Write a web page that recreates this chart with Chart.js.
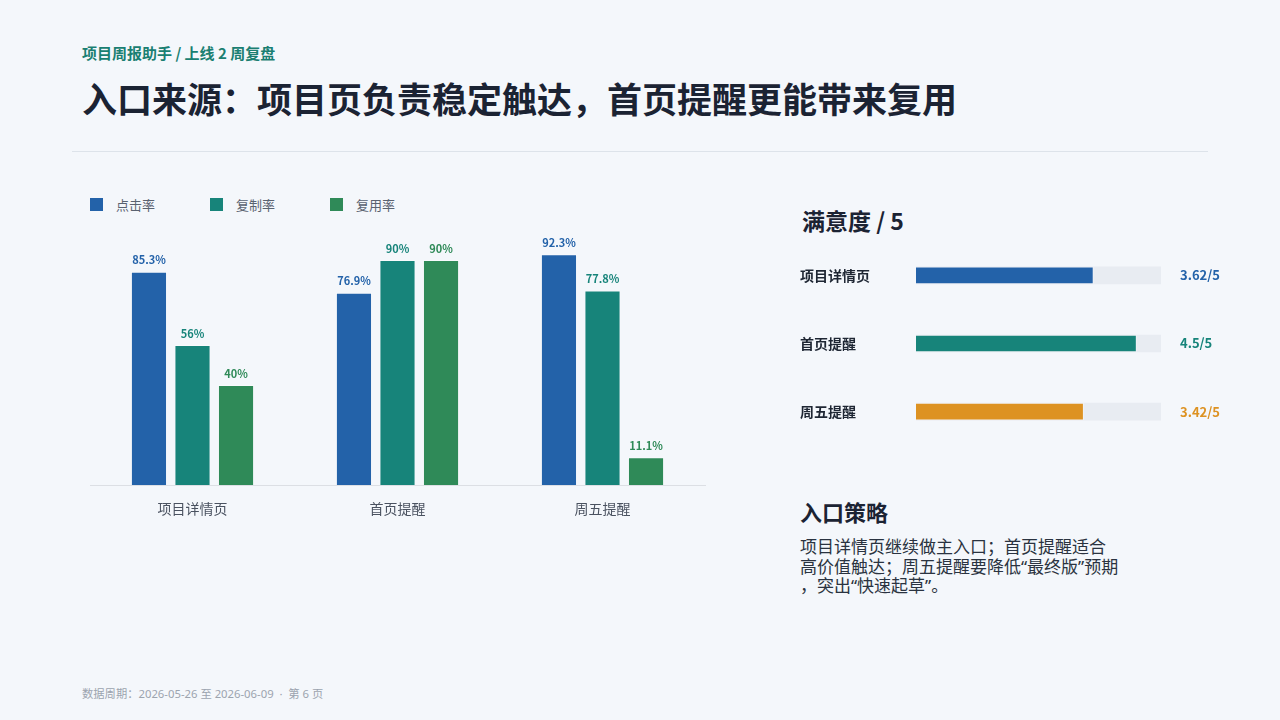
<!DOCTYPE html>
<html lang="zh-CN">
<head>
  <meta charset="UTF-8">
  <title>入口来源</title>
  <script src="https://cdn.jsdelivr.net/npm/chart.js"></script>
  <style>
    :root{
      --blue:#2362a9;
      --teal:#17847a;
      --green:#2f8a58;
      --orange:#dd9222;
      --ink:#1b2333;
    }
    html,body{margin:0;padding:0;}
    body{width:1280px;height:720px;position:relative;overflow:hidden;background:#f4f7fb;font-family:'Noto Sans CJK SC','Noto Sans',sans-serif;color:var(--ink);}
    .abs{position:absolute;}
    .kicker{left:82px;top:41px;font-size:15px;font-weight:700;color:#1a7f72;line-height:24px;}
    .title{left:82px;top:76px;font-size:35px;font-weight:700;line-height:44px;}
    .rule{left:72px;top:151px;width:1136px;height:1px;background:#dde3ea;}
    .legend{left:90px;top:196px;display:flex;font-size:13px;color:#5a6270;line-height:17px;}
    .legend span{display:flex;align-items:center;width:120px;}
    .legend i{display:inline-block;width:13px;height:13px;margin-right:13px;}
    .h2{font-size:23px;font-weight:700;line-height:30px;}
    .note{left:800px;top:537px;font-family:'Noto Sans','Noto Sans CJK SC',sans-serif;font-size:17px;line-height:19.5px;color:#2a3340;white-space:nowrap;}
    .foot{left:82px;top:686px;font-family:'Noto Sans','Noto Sans CJK SC',sans-serif;font-size:11.3px;color:#9ca4af;line-height:16px;}
  </style>
</head>
<body>
  <div class="abs kicker">项目周报助手 / 上线 2 周复盘</div>
  <div class="abs title">入口来源：项目页负责稳定触达，首页提醒更能带来复用</div>
  <div class="abs rule"></div>

  <div class="abs legend" id="legend"></div>
  <div class="abs" style="left:80px;top:226px;width:635px;height:305px;">
    <canvas id="rateChart"></canvas>
  </div>

  <div class="abs h2" style="left:802px;top:205px;">满意度 / 5</div>
  <div class="abs" style="left:800px;top:233px;width:440px;height:221px;">
    <canvas id="satChart"></canvas>
  </div>

  <div class="abs h2" style="left:800px;top:496px;font-size:22px;">入口策略</div>
  <div class="abs note">项目详情页继续做主入口；首页提醒适合<br>高价值触达；周五提醒要降低“最终版”预期<br>，突出“快速起草”。</div>

  <div class="abs foot">数据周期：2026-05-26 至 2026-06-09 &nbsp;·&nbsp; 第 6 页</div>

  <script>
    const categories = ['项目详情页', '首页提醒', '周五提醒'];
    const seriesNames = ['点击率', '复制率', '复用率'];
    const clickRate = [85.3, 76.9, 92.3];
    const copyRate = [56, 90, 77.8];
    const reuseRate = [40, 90, 11.1];
    const satisfaction = [3.62, 4.5, 3.42];
    const satMax = 5;

    const seriesColors = ['#2362a9', '#17847a', '#2f8a58'];
    const satColors = ['#2362a9', '#17847a', '#dd9222'];

    Chart.defaults.font.family = "'Noto Sans CJK SC','Noto Sans',sans-serif";
    Chart.defaults.animation = false;

    // legend
    const legend = document.getElementById('legend');
    seriesNames.forEach(function(name, i){
      const s = document.createElement('span');
      s.innerHTML = '<i style="background:' + seriesColors[i] + '"></i>' + name;
      legend.appendChild(s);
    });

    const barLabels = {
      id: 'barLabels',
      afterDatasetsDraw(chart){
        const ctx = chart.ctx;
        ctx.save();
        ctx.font = 'bold 11px ' + Chart.defaults.font.family;
        ctx.textAlign = 'center';
        ctx.textBaseline = 'bottom';
        chart.data.datasets.forEach(function(ds, di){
          chart.getDatasetMeta(di).data.forEach(function(bar, i){
            ctx.fillStyle = seriesColors[di];
            ctx.fillText(ds.data[i] + '%', bar.x, bar.y - 6);
          });
        });
        ctx.restore();
      }
    };

    const allRates = [clickRate, copyRate, reuseRate];
    new Chart(document.getElementById('rateChart'), {
      type: 'bar',
      data: {
        labels: categories,
        datasets: allRates.map(function(vals, i){
          return {
            label: seriesNames[i],
            data: vals,
            backgroundColor: seriesColors[i],
            borderColor: 'rgba(255,255,255,0.35)',
            borderWidth: 1,
            categoryPercentage: 0.637,
            barPercentage: 0.83
          };
        })
      },
      options: {
        responsive: true,
        maintainAspectRatio: false,
        layout: {padding: {left: 10, right: 10, top: 9, bottom: 0}},
        plugins: {legend: {display: false}, tooltip: {enabled: false}},
        scales: {
          x: {
            grid: {display: false, drawTicks: false},
            border: {display: true, color: '#dcdfe4', width: 1},
            ticks: {color: '#4a5260', font: {size: 14}, padding: 15},
            afterFit(scale){ scale.height = 46; }
          },
          y: {display: false, min: 0, max: 100}
        }
      },
      plugins: [barLabels]
    });

    const satLabels = {
      id: 'satLabels',
      afterDatasetsDraw(chart){
        const ctx = chart.ctx;
        const meta = chart.getDatasetMeta(0);
        ctx.save();
        ctx.font = 'bold 13px ' + Chart.defaults.font.family;
        ctx.textAlign = 'left';
        ctx.textBaseline = 'middle';
        meta.data.forEach(function(bar, i){
          ctx.fillStyle = satColors[i];
          ctx.fillText(satisfaction[i] + '/' + satMax, chart.chartArea.right + 19, bar.y);
        });
        ctx.restore();
      }
    };

    new Chart(document.getElementById('satChart'), {
      type: 'bar',
      data: {
        labels: categories,
        datasets: [
          {
            data: satisfaction,
            backgroundColor: satColors,
            borderColor: 'rgba(255,255,255,0.35)',
            borderWidth: 1,
            barThickness: 17,
            grouped: false,
            order: 1
          },
          {
            data: categories.map(function(){ return satMax; }),
            backgroundColor: '#e8ecf2',
            barThickness: 17,
            grouped: false,
            order: 2
          }
        ]
      },
      options: {
        indexAxis: 'y',
        responsive: true,
        maintainAspectRatio: false,
        layout: {padding: {left: 0, right: 79, top: 0, bottom: 0}},
        plugins: {legend: {display: false}, tooltip: {enabled: false}},
        scales: {
          x: {display: false, min: 0, max: satMax},
          y: {
            grid: {display: false, drawTicks: false},
            border: {display: false},
            ticks: {crossAlign: 'far', color: '#1e2633', font: {size: 14, weight: 'bold'}, padding: 0},
            afterFit(scale){ scale.width = 116; }
          }
        }
      },
      plugins: [satLabels]
    });
  </script>
</body>
</html>
